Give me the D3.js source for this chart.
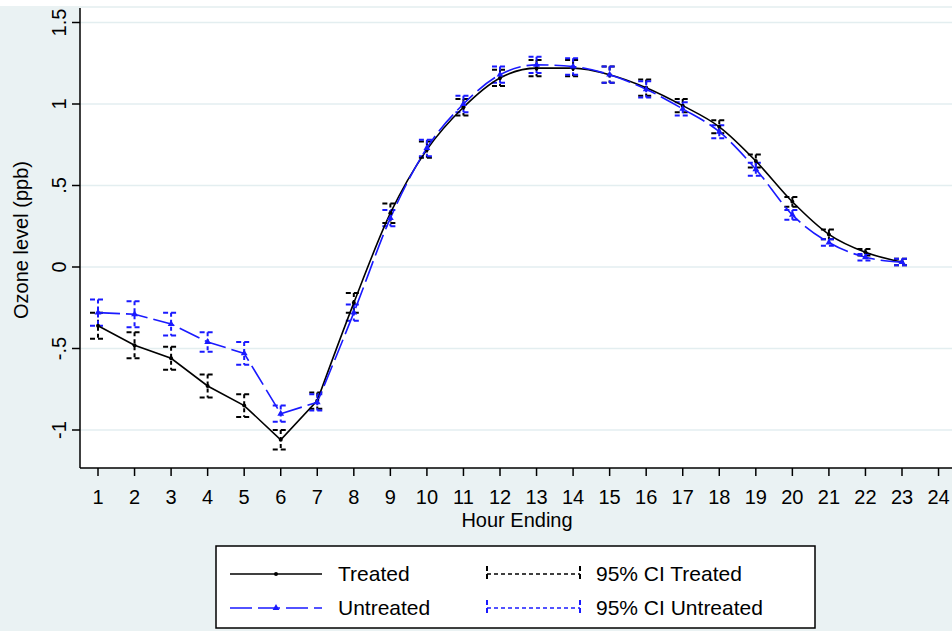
<!DOCTYPE html>
<html><head><meta charset="utf-8">
<script src="https://cdn.jsdelivr.net/npm/d3@7"></script>
<style>body{margin:0;background:#fff}svg{display:block;font-family:"Liberation Sans",Arial,sans-serif}</style>
</head><body><svg id="c" width="952" height="631"></svg>
<script>
const hours = d3.range(1, 24);
const treated = [-0.36,-0.48,-0.56,-0.73,-0.85,-1.06,-0.82,-0.22,0.33,0.72,0.98,1.16,1.22,1.22,1.18,1.10,0.99,0.86,0.65,0.40,0.20,0.09,0.03];
const treatedCI = [0.08,0.08,0.07,0.07,0.07,0.06,0.05,0.06,0.06,0.05,0.05,0.05,0.05,0.05,0.05,0.05,0.04,0.04,0.04,0.03,0.03,0.02,0.02];
const untreated = [-0.28,-0.29,-0.35,-0.46,-0.53,-0.90,-0.83,-0.28,0.30,0.73,1.00,1.18,1.24,1.23,1.18,1.09,0.97,0.83,0.60,0.32,0.15,0.06,0.03];
const untreatedCI = [0.08,0.08,0.07,0.06,0.07,0.05,0.05,0.05,0.05,0.05,0.05,0.05,0.05,0.05,0.05,0.05,0.04,0.04,0.04,0.03,0.02,0.02,0.02];
const xTicks = d3.range(1, 25);
const yTicks = [-1, -0.5, 0, 0.5, 1, 1.5];
const yLabels = ["-1", "-.5", "0", ".5", "1", "1.5"];

const svg = d3.select('#c');
svg.append('rect').attr('width', 952).attr('height', 631).attr('fill', '#eaf2f3');
svg.append('rect').attr('x', 0).attr('y', 0).attr('width', 952).attr('height', 6).attr('fill', '#fff');

const x = d3.scaleLinear().domain([1, 23]).range([98, 902]);
const y = d3.scaleLinear().domain([0, 1]).range([267, 104]);

svg.append('rect').attr('x', 80).attr('y', 8).attr('width', 872).attr('height', 460).attr('fill', '#fff');

svg.selectAll('.grid').data(yTicks).enter().append('line')
  .attr('x1', 80).attr('x2', 952).attr('y1', d => y(d)).attr('y2', d => y(d))
  .attr('stroke', '#e3eef0').attr('stroke-width', 1.5);

svg.append('line').attr('x1', 80).attr('x2', 80).attr('y1', 8).attr('y2', 468).attr('stroke', '#000').attr('stroke-width', 1.5);
svg.append('line').attr('x1', 80).attr('x2', 952).attr('y1', 468).attr('y2', 468).attr('stroke', '#000').attr('stroke-width', 1.5);
yTicks.forEach((t, i) => {
  svg.append('line').attr('x1', 72).attr('x2', 80).attr('y1', y(t)).attr('y2', y(t)).attr('stroke', '#000').attr('stroke-width', 1.5);
  svg.append('text').attr('transform', `translate(66,${y(t)}) rotate(-90)`).attr('text-anchor', 'middle')
    .attr('font-size', 20).text(yLabels[i]);
});
xTicks.forEach(t => {
  svg.append('line').attr('x1', x(t)).attr('x2', x(t)).attr('y1', 468).attr('y2', 476).attr('stroke', '#000').attr('stroke-width', 1.5);
  svg.append('text').attr('x', x(t)).attr('y', 504).attr('text-anchor', 'middle').attr('font-size', 20).text(t);
});
svg.append('text').attr('x', 517).attr('y', 527).attr('text-anchor', 'middle').attr('font-size', 20).text('Hour Ending');
svg.append('text').attr('transform', 'translate(28,240) rotate(-90)').attr('text-anchor', 'middle').attr('font-size', 20).text('Ozone level (ppb)');

function drawCI(vals, ci, color) {
  vals.forEach((v, i) => {
    const cx = x(hours[i]), lo = y(v - ci[i]), hi = y(v + ci[i]);
    const g = svg.append('g').attr('stroke', color).attr('stroke-width', 2);
    g.append('line').attr('x1', cx).attr('x2', cx).attr('y1', hi).attr('y2', lo).attr('stroke-dasharray', '4,3');
    [hi, lo].forEach(yy => g.append('line').attr('x1', cx - 8).attr('x2', cx + 8).attr('y1', yy).attr('y2', yy).attr('stroke-dasharray', '5,3'));
  });
}
drawCI(treated, treatedCI, '#000');
drawCI(untreated, untreatedCI, '#1a1aff');

// straight segments through hour 7, smooth afterwards
const lineLin = d3.line().x(d => x(d[0])).y(d => y(d[1]));
const lineSmooth = d3.line().x(d => x(d[0])).y(d => y(d[1])).curve(d3.curveMonotoneX);
function drawSeries(vals, color, dash) {
  const pts = vals.map((v, i) => [hours[i], v]);
  const p = lineLin(pts.slice(0, 7)) + lineSmooth(pts.slice(6)).replace(/^M/, 'L');
  svg.append('path').attr('d', p).attr('fill', 'none').attr('stroke', color).attr('stroke-width', 1.6).attr('stroke-dasharray', dash);
}
drawSeries(treated, '#000', null);
drawSeries(untreated, '#1a1aff', '22,6');
svg.selectAll('.pt').data(treated).enter().append('circle').attr('cx', (d, i) => x(hours[i])).attr('cy', d => y(d)).attr('r', 2).attr('fill', '#000');
svg.selectAll('.pu').data(untreated).enter().append('path')
  .attr('d', d3.symbol(d3.symbolTriangle, 20)).attr('transform', (d, i) => `translate(${x(hours[i])},${y(d)})`).attr('fill', '#1a1aff');

const lg = svg.append('g');
lg.append('rect').attr('x', 216).attr('y', 546).attr('width', 599).attr('height', 82).attr('fill', '#fff').attr('stroke', '#000').attr('stroke-width', 1.5);
lg.append('line').attr('x1', 230).attr('x2', 322).attr('y1', 574).attr('y2', 574).attr('stroke', '#000').attr('stroke-width', 1.6);
lg.append('circle').attr('cx', 276).attr('cy', 574).attr('r', 2).attr('fill', '#000');
lg.append('text').attr('x', 338).attr('y', 581).attr('font-size', 21).text('Treated');
lg.append('line').attr('x1', 230).attr('x2', 322).attr('y1', 608).attr('y2', 608).attr('stroke', '#1a1aff').attr('stroke-width', 1.6).attr('stroke-dasharray', '22,6');
lg.append('path').attr('d', d3.symbol(d3.symbolTriangle, 20)).attr('transform', 'translate(276,608)').attr('fill', '#1a1aff');
lg.append('text').attr('x', 338).attr('y', 615).attr('font-size', 21).text('Untreated');
[[574, '#000', '95% CI Treated'], [608, '#1a1aff', '95% CI Untreated']].forEach(([yy, c, t]) => {
  lg.append('line').attr('x1', 487).attr('x2', 580).attr('y1', yy).attr('y2', yy).attr('stroke', c).attr('stroke-width', 1.6).attr('stroke-dasharray', '4,3');
  [487, 580].forEach(xx => lg.append('line').attr('x1', xx).attr('x2', xx).attr('y1', yy - 8).attr('y2', yy + 8).attr('stroke', c).attr('stroke-width', 2).attr('stroke-dasharray', '5,3'));
  lg.append('text').attr('x', 596).attr('y', yy + 7).attr('font-size', 21).text(t);
});
</script></body></html>
